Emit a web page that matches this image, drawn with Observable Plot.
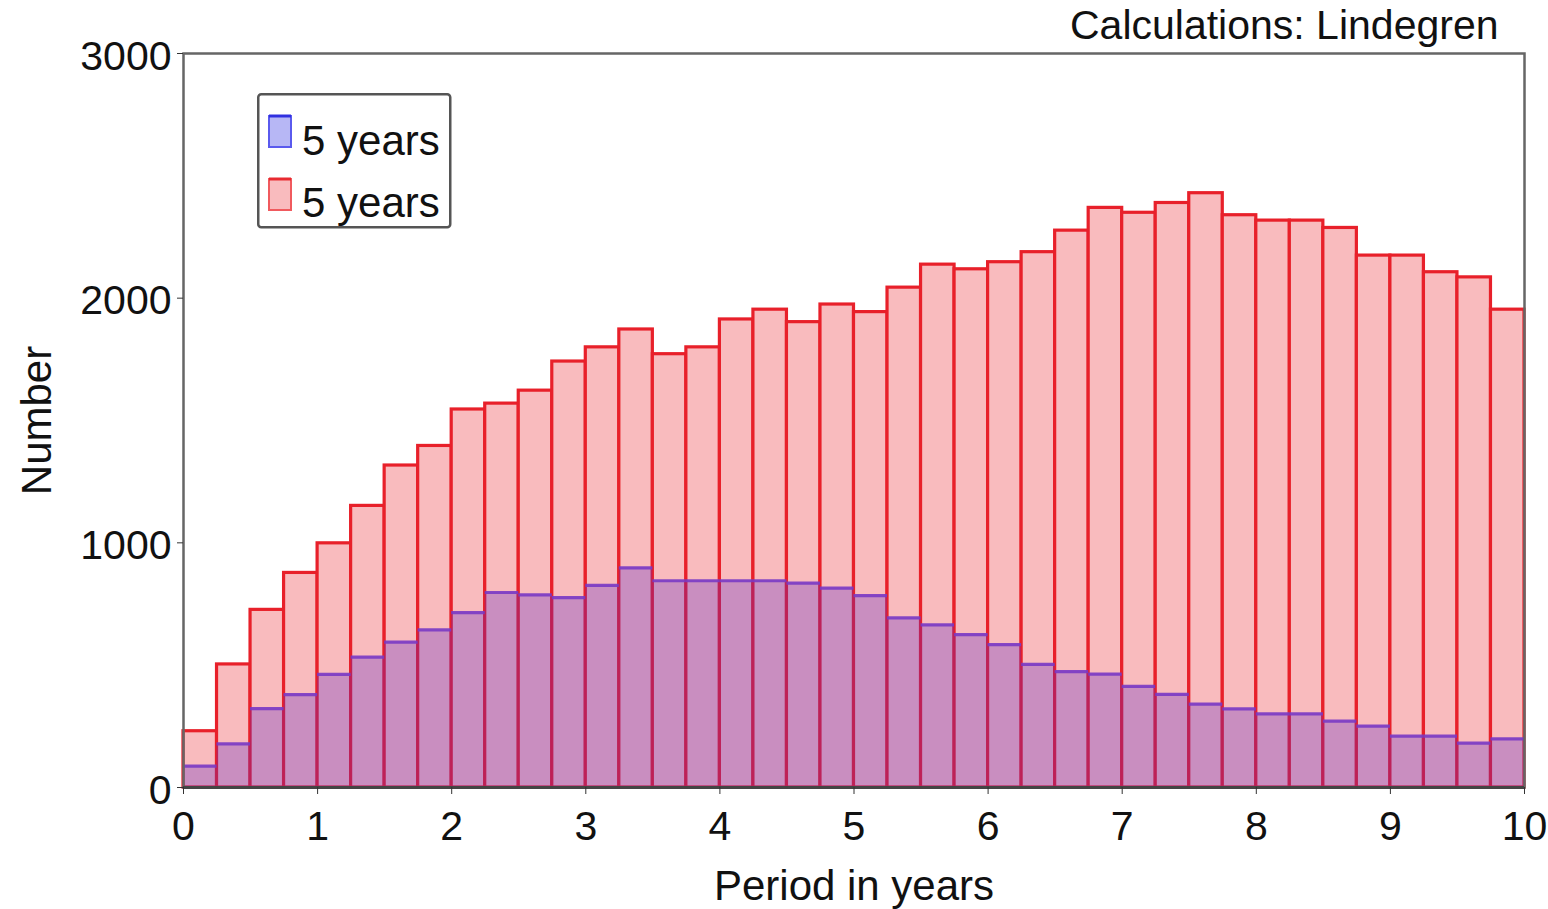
<!DOCTYPE html>
<html>
<head>
<meta charset="utf-8">
<script src="https://cdn.jsdelivr.net/npm/d3@7"></script>
<script src="https://cdn.jsdelivr.net/npm/@observablehq/plot@0.6"></script>
<style>
  html, body { margin: 0; padding: 0; background: #fff; }
  #chart { position: relative; width: 1548px; height: 909px; font-family: "Liberation Sans", Arial, Helvetica, sans-serif; }
  #legend { position: absolute; left: 257px; top: 93px; }
</style>
</head>
<body>
<div id="chart"></div>
<script>
// Histogram bins: start of each 0.25-year period bin
const binStarts = [0, 0.25, 0.5, 0.75, 1, 1.25, 1.5, 1.75, 2, 2.25, 2.5, 2.75,
  3, 3.25, 3.5, 3.75, 4, 4.25, 4.5, 4.75, 5, 5.25, 5.5, 5.75,
  6, 6.25, 6.5, 6.75, 7, 7.25, 7.5, 7.75, 8, 8.25, 8.5, 8.75,
  9, 9.25, 9.5, 9.75];
const binWidth = 0.25;

// Counts per bin, first series (drawn translucent on top)
const blueCounts = [87, 178, 322, 380, 462, 533, 594, 644, 715, 797, 787, 776,
  826, 898, 845, 845, 845, 845, 835, 815, 784, 693, 665, 625,
  584, 503, 474, 463, 413, 381, 341, 321, 301, 301, 271, 251,
  210, 210, 181, 199];

// Counts per bin, second series (drawn behind)
const redCounts = [230, 503, 726, 877, 998, 1151, 1316, 1396, 1545, 1569, 1622, 1741,
  1799, 1872, 1771, 1799, 1913, 1953, 1902, 1974, 1943, 2043, 2137, 2118,
  2147, 2188, 2276, 2369, 2349, 2389, 2429, 2339, 2317, 2317, 2287, 2174,
  2174, 2106, 2085, 1953];

const xTicks = [0, 1, 2, 3, 4, 5, 6, 7, 8, 9, 10];
const yTicks = [0, 1000, 2000, 3000];
const legendLabels = ["5 years", "5 years"];
const xLabel = "Period in years";
const yLabel = "Number";
const caption = "Calculations: Lindegren";

const bins = binStarts.map((x0, i) => ({
  x0, x1: x0 + binWidth, blue: blueCounts[i], red: redCounts[i]
}));

const font = "'Liberation Sans', Arial, Helvetica, sans-serif";

const chart = Plot.plot({
  width: 1548,
  height: 909,
  marginLeft: 183,
  marginRight: 24,
  marginTop: 53,
  marginBottom: 122,
  style: {fontSize: "41px", fontFamily: font, color: "#111", background: "transparent"},
  x: {domain: [0, 10]},
  y: {domain: [0, 3000]},
  marks: [
    // second series: pink bars with red outline
    Plot.rectY(bins, {x1: "x0", x2: "x1", y: "red", fill: "#f9bbbe", stroke: "#e8202a", strokeWidth: 3.2}),
    // first series: translucent blue bars laid over
    Plot.rectY(bins, {x1: "x0", x2: "x1", y: "blue", fill: "#5a28c8", fillOpacity: 0.3}),
    Plot.ruleY(bins, {x1: "x0", x2: "x1", y: "blue", stroke: "#7a3ac4", strokeWidth: 3.2, strokeOpacity: 0.9}),
    Plot.frame({stroke: "#666", strokeWidth: 2.5}),
    Plot.ruleY([0], {stroke: "#444", strokeWidth: 3}),
    Plot.axisX({ticks: xTicks, tickSize: 7, tickPadding: 16, tickFormat: "d", label: null, stroke: "#333"}),
    // y tick marks, then their labels nudged slightly down
    Plot.axisY({ticks: yTicks, tickSize: 6, text: null, label: null, stroke: "#333"}),
    Plot.axisY({ticks: yTicks, tickSize: 0, tickPadding: 12, tickFormat: "d", label: null, dy: 3}),
    Plot.text([yLabel], {frameAnchor: "left", dx: -146, rotate: -90, textAnchor: "middle", fontSize: 42, fill: "#111"}),
    Plot.text([xLabel], {frameAnchor: "bottom", dy: 112, fontSize: 42, fill: "#111"}),
    Plot.text([caption], {frameAnchor: "top-right", dx: -26, dy: -44, textAnchor: "end", fontSize: 41, fill: "#111"})
  ]
});

const root = document.getElementById("chart");
root.appendChild(chart);

// Legend box drawn inside the plot area
const ns = "http://www.w3.org/2000/svg";
const leg = document.createElementNS(ns, "svg");
leg.setAttribute("id", "legend");
leg.setAttribute("width", 196);
leg.setAttribute("height", 137);
leg.innerHTML = `
  <rect x="1.25" y="1.25" width="192" height="133" rx="3" fill="#fff" stroke="#555" stroke-width="2.5"/>
  <rect x="12" y="23" width="22" height="31" fill="#b7b7f5" stroke="#5a5aee" stroke-width="2"/>
  <line x1="12" y1="23" x2="34" y2="23" stroke="#3030e0" stroke-width="3"/>
  <text x="45" y="62" font-size="42" font-family="${font}" fill="#111">${legendLabels[0]}</text>
  <rect x="12" y="86" width="22" height="31" fill="#f9bbbe" stroke="#f05a5e" stroke-width="2"/>
  <line x1="12" y1="86" x2="34" y2="86" stroke="#e82a30" stroke-width="3"/>
  <text x="45" y="124" font-size="42" font-family="${font}" fill="#111">${legendLabels[1]}</text>
`;
root.appendChild(leg);
</script>
</body>
</html>
